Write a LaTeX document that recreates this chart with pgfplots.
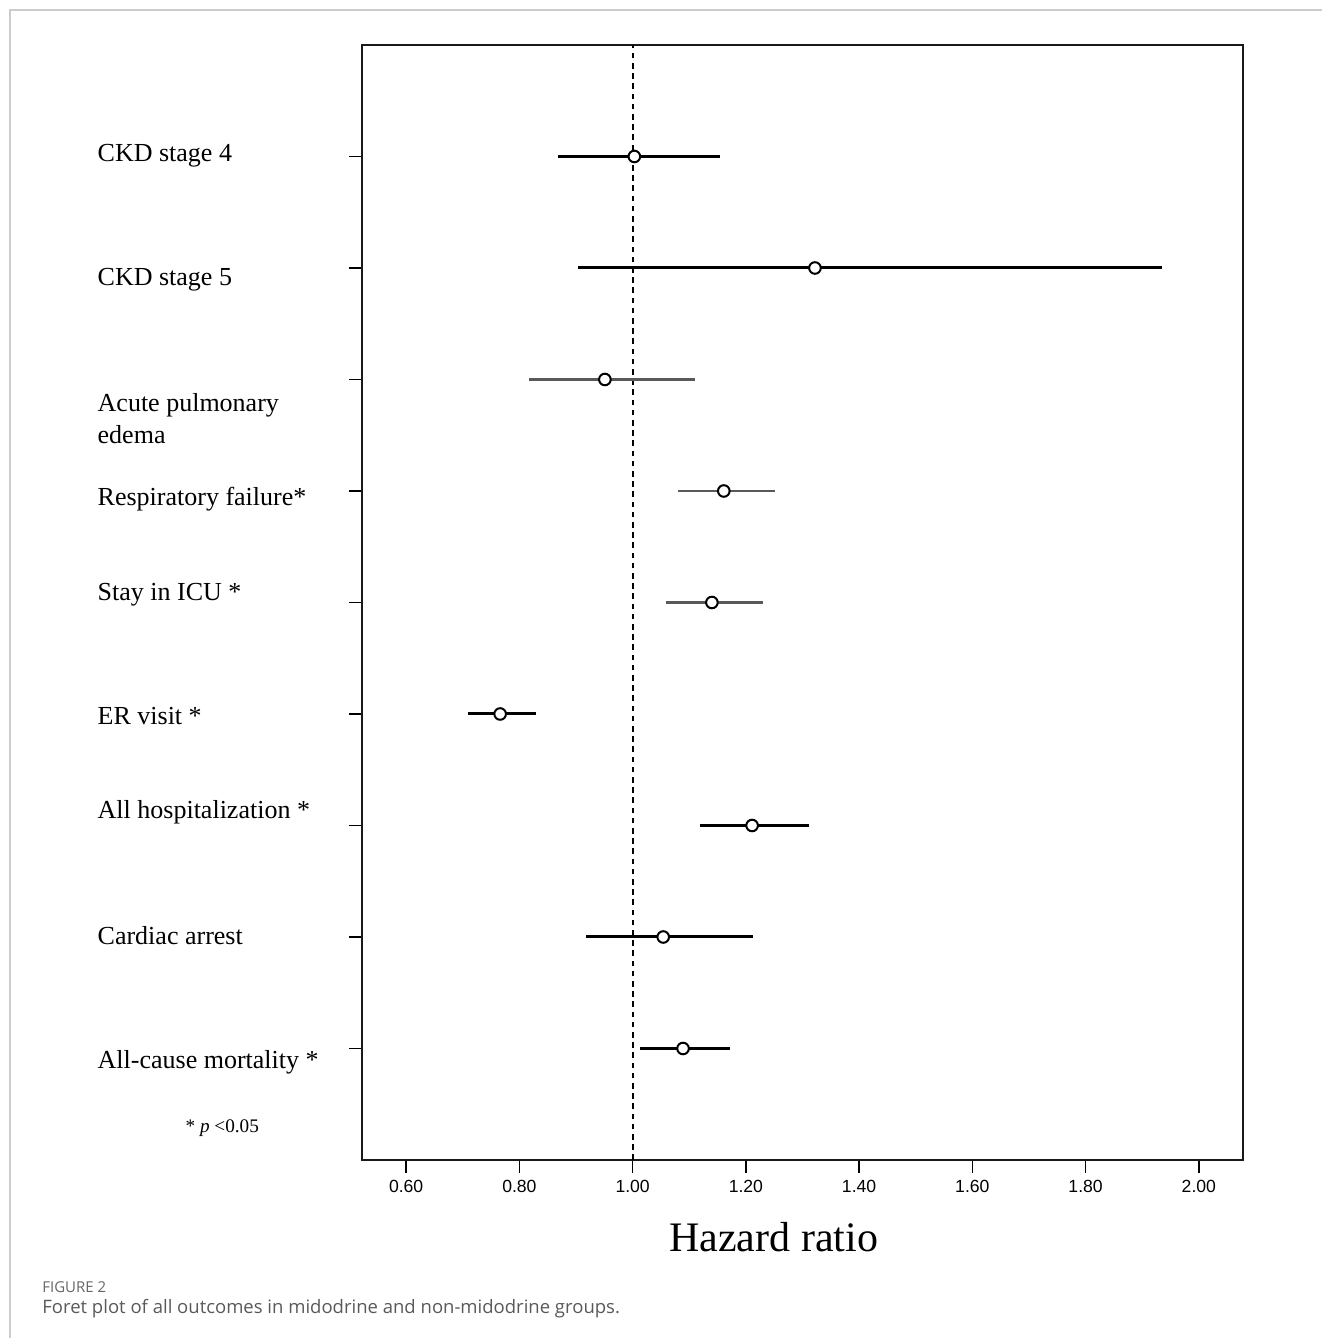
\documentclass[border=0pt]{standalone}
\usepackage{fontspec}
\setmainfont{Liberation Serif}
\newfontfamily\arialfont{Liberation Sans}
\newfontfamily\capfont{Open Sans}
\usepackage{pgfplots}
\usepackage{pgfplotstable}
\pgfplotsset{compat=1.18}

\pgfplotstableread{
y hr lo hi
9 1.003 0.868 1.154
8 1.322 0.904 1.935
4 0.766 0.709 0.830
3 1.211 1.119 1.312
2 1.054 0.918 1.213
1 1.089 1.013 1.172
}\darkrows
\pgfplotstableread{
y hr lo hi
7 0.951 0.817 1.110
6 1.161 1.080 1.252
5 1.140 1.059 1.230
}\grayrows
\pgfplotstableread{
y hr lo hi
9 1.003 0.868 1.154
8 1.322 0.904 1.935
7 0.951 0.817 1.110
6 1.161 1.080 1.252
5 1.140 1.059 1.230
4 0.766 0.709 0.830
3 1.211 1.119 1.312
2 1.054 0.918 1.213
1 1.089 1.013 1.172
}\allrows

\begin{document}
\begin{tikzpicture}
\path[use as bounding box] (-181pt,-89pt) rectangle (480pt,580pt);
\draw[black!20, line width=0.75pt] (-176pt,-89pt) -- (-176pt,575pt) -- (480pt,575pt);
\begin{axis}[
  at={(0pt,0pt)}, anchor=south west,
  width=440.5pt, height=557.5pt, scale only axis,
  xmin=0.522, xmax=2.078, ymin=0, ymax=10,
  xtick={0.6,0.8,1.0,1.2,1.4,1.6,1.8,2.0},
  ytick={1,2,3,4,5,6,7,8,9},
  yticklabels={},
  xtick pos=bottom, ytick pos=left,
  tick align=outside,
  major tick length=6.5pt,
  tick style={line width=0.7pt, black},
  axis line style={line width=1.4pt, black!90},
  xticklabel style={font=\arialfont\fontsize{8.8pt}{10pt}\selectfont, /pgf/number format/.cd, fixed, fixed zerofill, precision=2, assume math mode=true},
  clip=false,
]
\addplot[black, line width=0.9pt, dash pattern=on 2.8pt off 2.3pt] coordinates {(1,0) (1,10)};
\addplot[only marks, mark=none, error bars/.cd, x dir=both, x explicit, error mark=none,
  error bar style={line width=1.5pt, black}]
  table[x=hr, y=y, x error plus expr=\thisrow{hi}-\thisrow{hr}, x error minus expr=\thisrow{hr}-\thisrow{lo}] {\darkrows};
\addplot[only marks, mark=none, error bars/.cd, x dir=both, x explicit, error mark=none,
  error bar style={line width=1.25pt, black!65}]
  table[x=hr, y=y, x error plus expr=\thisrow{hi}-\thisrow{hr}, x error minus expr=\thisrow{hr}-\thisrow{lo}] {\grayrows};
\addplot[only marks, mark=*, mark size=2.9pt, mark options={line width=1pt, fill=white, draw=black}]
  table[x=hr, y=y] {\allrows};

\begin{scope}[every node/.style={anchor=base west, inner sep=0pt, font=\fontsize{13pt}{15.5pt}\selectfont}]
\node at (axis cs:0.0545,8.951) {CKD stage 4};
\node at (axis cs:0.0545,7.839) {CKD stage 5};
\node at (axis cs:0.0545,6.715) {Acute pulmonary};
\node at (axis cs:0.0545,6.425) {edema};
\node at (axis cs:0.0545,5.874) {Respiratory failure*};
\node at (axis cs:0.0545,5.022) {Stay in ICU *};
\node at (axis cs:0.0545,3.910) {ER visit *};
\node at (axis cs:0.0545,3.067) {All hospitalization *};
\node at (axis cs:0.0545,1.937) {Cardiac arrest};
\node at (axis cs:0.0545,0.825) {All-cause mortality *};
\end{scope}
\node[anchor=base west, inner sep=0pt, font=\fontsize{9.6pt}{11pt}\selectfont] at (axis cs:0.2098,0.251) {* \textit{p} <0.05};
\node[anchor=base, inner sep=0pt, font=\fontsize{21pt}{24pt}\selectfont] at (axis cs:1.249,-0.825) {Hazard ratio};
\end{axis}
\node[anchor=base west, inner sep=0pt, text=black!60, font=\capfont\fontsize{7.5pt}{8pt}\selectfont] at (-160pt,-66pt) {FIGURE 2};
\node[anchor=base west, inner sep=0pt, text=black!65, font=\capfont\fontsize{9.25pt}{10pt}\selectfont] at (-160pt,-76.5pt) {Foret plot of all outcomes in midodrine and non-midodrine groups.};
\end{tikzpicture}
\end{document}
